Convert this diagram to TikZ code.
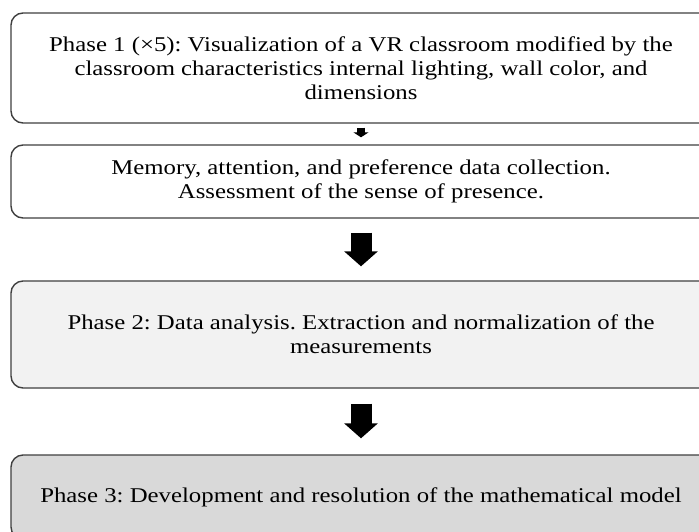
\documentclass[tikz,border=0pt]{standalone}
\usepackage{fontspec}
\setmainfont{Liberation Serif}[FakeStretch=1.18]
\usepackage{tikz}
\usetikzlibrary{arrows.meta}
\frenchspacing

\tikzset{
  phase/.style={draw=black!75, line width=1.4pt, rounded corners=12pt,
    minimum width=700pt, align=center, inner sep=0pt,
    font=\fontsize{21pt}{24pt}\selectfont},
  bigarrow/.style={line width=21pt, -{Triangle[width=33pt,length=15pt]}},
  smallarrow/.style={line width=8pt, -{Triangle[width=15pt,length=5pt]}}
}

\begin{document}
\begin{tikzpicture}[x=1pt,y=-1pt]
 \clip (0,0) rectangle (699,531);
 \fill[white] (0,0) rectangle (699,531);

% Phase 1
 \node[phase, fill=white, minimum height=110pt] (vis) at (361,68)
   {Phase 1 (×5): Visualization of a VR classroom modified by the\\
    classroom characteristics internal lighting, wall color, and\\
    dimensions};

% Data collection
 \node[phase, fill=white, minimum height=73pt] (mem) at (361,181.5)
   {Memory, attention, and preference data collection.\\
    Assessment of the sense of presence.};

% Phase 2
 \node[phase, fill=black!5, minimum height=107pt] (ana) at (361,334.5)
   {Phase 2: Data analysis. Extraction and normalization of the\\
    measurements};

% Phase 3
 \node[phase, fill=black!15, minimum height=84pt] (mod) at (361,497)
   {Phase 3: Development and resolution of the mathematical model};

% Arrows
 \draw[smallarrow, shorten <=4pt, shorten >=7pt] (vis.south) -- (mem.north);
 \draw[bigarrow, shorten <=14pt, shorten >=14pt] (mem.south) -- (ana.north);
 \draw[bigarrow, shorten <=15pt, shorten >=16pt] (ana.south) -- (mod.north);

\end{tikzpicture}
\end{document}
